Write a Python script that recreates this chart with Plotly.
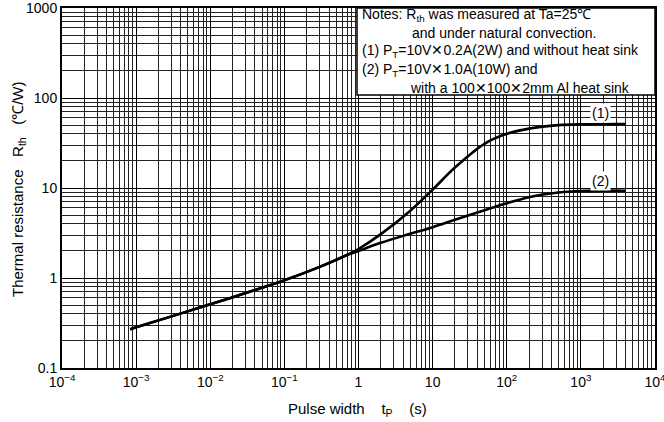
import plotly.graph_objects as go

# ---- data ----
tp_common = [8.3e-4, 1e-3, 1e-2, 3e-2, 0.1, 0.3, 0.7]
r_common = [0.27, 0.283, 0.51, 0.68, 0.944, 1.33, 1.8]

tp_tail = [1, 2, 5, 10, 20, 50, 100, 200, 500, 1000, 4000]
r1_tail = [2.1, 3.07, 5.6, 9.6, 16.9, 31, 40, 45.7, 49.9, 51, 51.3]
r2_tail = [2.0, 2.46, 3.1, 3.67, 4.43, 5.66, 6.76, 7.9, 8.9, 9.26, 9.33]

x_tickvals = [1e-4, 1e-3, 1e-2, 1e-1, 1, 10, 100, 1000, 10000]
x_ticktext = ["10<sup>−4</sup>", "10<sup>−3</sup>", "10<sup>−2</sup>", "10<sup>−1</sup>",
              "1", "10", "10<sup>2</sup>", "10<sup>3</sup>", "10<sup>4</sup>"]
y_tickvals = [0.1, 1, 10, 100, 1000]
y_ticktext = ["0.1", "1", "10", "100", "1000"]

notes = [
    "Notes: R<sub>th</sub> was measured at Ta=25℃",
    "and under natural convection.",
    "(1) P<sub>T</sub>=10V✕0.2A(2W) and without heat sink",
    "(2) P<sub>T</sub>=10V✕1.0A(10W) and",
    "with a 100✕100✕2mm Al heat sink",
]

FONT = "Liberation Sans, Arial, sans-serif"

fig = go.Figure()
fig.add_trace(go.Scatter(x=tp_common + tp_tail, y=r_common + r1_tail, mode="lines",
                         line=dict(color="black", width=2.6, shape="spline"),
                         showlegend=False))
fig.add_trace(go.Scatter(x=tp_common + tp_tail, y=r_common + r2_tail, mode="lines",
                         line=dict(color="black", width=2.6, shape="spline"),
                         showlegend=False))

W, H = 664, 422
L, R, T, B = 62, 9, 8, 54
pw, ph = W - L - R, H - T - B

def px(x):
    return (x - L) / pw

def py(y):
    return (H - B - y) / ph

axis_common = dict(
    type="log", showline=True, linecolor="black", linewidth=2, mirror=True,
    showgrid=True, gridcolor="black", gridwidth=1.3, ticks="", zeroline=False,
    tickfont=dict(family=FONT, size=14, color="black"),
    ticklabeloverflow="allow",
    minor=dict(showgrid=True, gridcolor="#222", gridwidth=0.8, dtick="D1", ticks=""),
)

fig.update_xaxes(range=[-4, 4], tickvals=x_tickvals, ticktext=x_ticktext, **axis_common)
fig.update_yaxes(range=[-1, 3], tickvals=y_tickvals, ticktext=y_ticktext, **axis_common)

# notes box
fig.add_shape(type="rect", xref="paper", yref="paper",
              x0=px(357), x1=1.0, y0=py(95), y1=1.0,
              fillcolor="white", line=dict(color="black", width=1.5), layer="above")

note_pos = [(360, 15), (410, 33), (360, 51), (360, 70), (408, 88)]
for txt, (nx, ny) in zip(notes, note_pos):
    fig.add_annotation(text=txt, xref="paper", yref="paper", x=px(nx), y=py(ny),
                       xanchor="left", yanchor="middle", showarrow=False,
                       font=dict(family=FONT, size=14, color="black"))

# curve labels
fig.add_annotation(text="(1)", x=3.261, y=1.83, showarrow=False,
                   font=dict(family=FONT, size=14, color="black"), bgcolor="white")
fig.add_annotation(text="(2)", x=3.261, y=1.078, showarrow=False,
                   font=dict(family=FONT, size=14, color="black"), bgcolor="white")

# axis titles
fig.add_annotation(text="Pulse width\u00a0\u00a0\u00a0\u00a0t<sub>P</sub>\u00a0\u00a0\u00a0\u00a0(s)",
                   xref="paper", yref="paper", x=px(357), y=py(409),
                   xanchor="center", yanchor="middle", showarrow=False,
                   font=dict(family=FONT, size=15, color="black"))
fig.add_annotation(text="Thermal resistance\u00a0\u00a0\u00a0R<sub>th</sub>\u00a0\u00a0\u00a0(℃/W)",
                   xref="paper", yref="paper", x=px(18), y=py(190), textangle=-90,
                   xanchor="center", yanchor="middle", showarrow=False,
                   font=dict(family=FONT, size=15, color="black"))

fig.update_layout(width=W, height=H, autosize=False,
                  margin=dict(l=L, r=R, t=T, b=B, autoexpand=False),
                  plot_bgcolor="white", paper_bgcolor="white",
                  font=dict(family=FONT, size=14, color="black"))

fig.write_html("out.html",
               config={"responsive": False, "displayModeBar": False},
               post_script="document.body.style.margin='0px';document.body.style.overflow='hidden';")
